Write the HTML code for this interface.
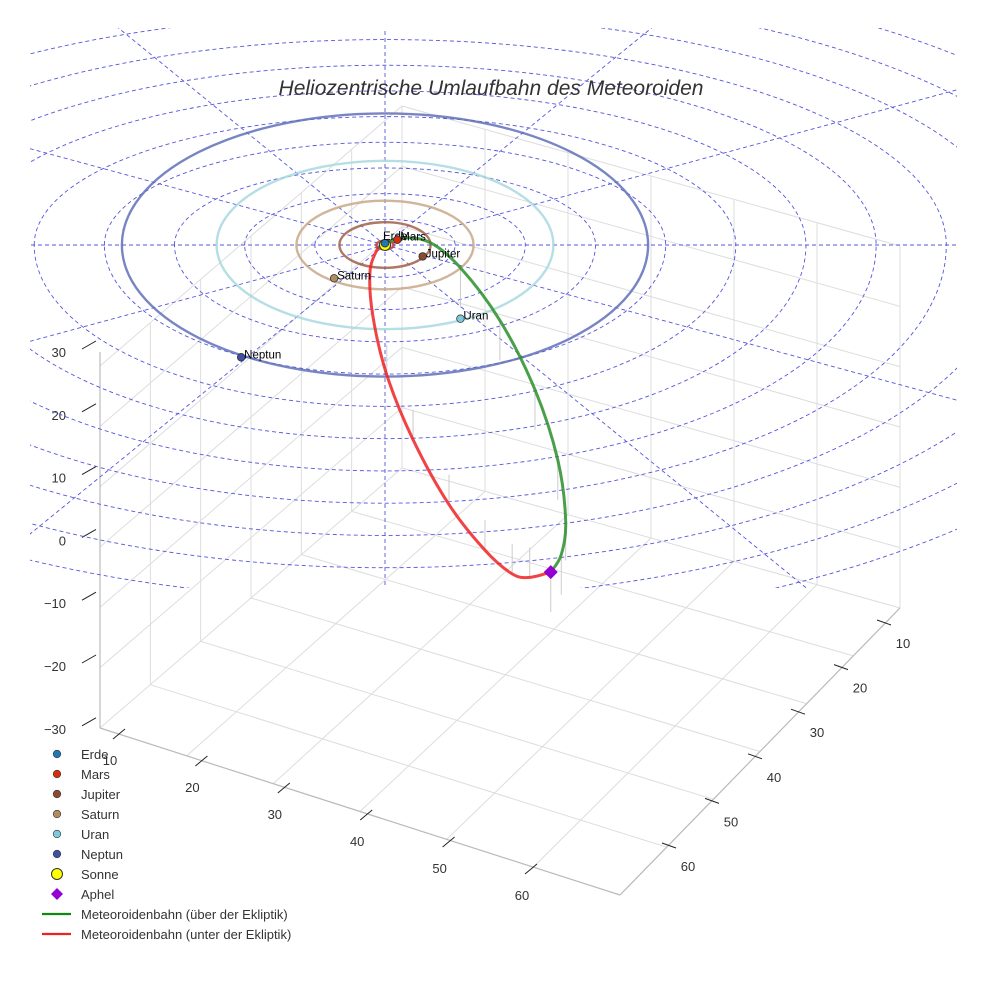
<!DOCTYPE html>
<html><head><meta charset="utf-8"><style>
body{margin:0;background:#fff;}
svg{display:block;font-family:"Liberation Sans",sans-serif;}
</style></head><body>
<svg id="c" width="984" height="984" viewBox="0 0 984 984">
<g id="box"></g>
<g id="grid"></g>
<text x="491" y="95" text-anchor="middle" font-size="21" font-style="italic" fill="#333">Heliozentrische Umlaufbahn des Meteoroiden</text>
<g id="orbits"></g>
<g id="met"></g>
<g id="planets"></g>
<g id="legend"></g>
</svg>
<script>
// ---- data ----
const planetNames=["Erde","Mars","Jupiter","Saturn","Uran","Neptun"];
const planetColors=["#1f77b4","#d62f0a","#8c4a2f","#b08a60","#7ec8dc","#3f4fa8"];
const orbitRadii=[0.6,1.0,5.2,10.1,19.2,30.0];
const orbitColors=["#4070d0","#c04030","#a0604a","#c8a888","#a8d8e0","#6070b8"];
const planetU=[0.0,1.4,4.3,-5.8,8.6,-16.4];
const planetV=[-0.2,-0.6,1.3,3.8,8.4,12.8];
const gridRadii=[8,16,24,32,40,48,56,64,72,80,88,96];
const gridAngles=[0,30,60,90,120,150,180,210,240,270,300,330];
const greenU=[-0.8,1.7,5.1,8.6,13.1,17.1,19.7,20.6,20.1,18.9];
const greenV=[0.3,-0.8,-0.3,2.6,8.6,16.5,24.5,31.4,35.3,37.3];
const redU=[18.9,16.5,14.5,11.4,7.3,3.2,0.2,-1.4,-1.7,-0.8];
const redV=[37.3,37.9,37.5,34.8,29.6,22.2,14.8,8.0,2.9,0.3];
const aphelU=[18.9], aphelV=[37.3];
const zTicks=["30","20","10","0","\u221210","\u221220","\u221230"];
const xTicks=[10,20,30,40,50,60];
const yTicks=[10,20,30,40,50,60];
// ---- projection ----
const CX=385,CY=245,K=8.77;
const px=u=>CX+u*K, py=v=>CY+v*K, ry=r=>r*K*0.5;
const GT=0.366, GB=0.46, GR=0.47;
const NS="http://www.w3.org/2000/svg";
function mk(tag,attrs,parent){const e=document.createElementNS(NS,tag);for(const k in attrs)e.setAttribute(k,attrs[k]);parent.appendChild(e);return e;}
const $=id=>document.getElementById(id);
function smooth(xs,ys){let d=`M${xs[0]},${ys[0]}`;for(let i=0;i<xs.length-1;i++){const x0=xs[Math.max(i-1,0)],y0=ys[Math.max(i-1,0)],x1=xs[i],y1=ys[i],x2=xs[i+1],y2=ys[i+1],x3=xs[Math.min(i+2,xs.length-1)],y3=ys[Math.min(i+2,ys.length-1)];d+=` C${x1+(x2-x0)/6},${y1+(y2-y0)/6} ${x2-(x3-x1)/6},${y2-(y3-y1)/6} ${x2},${y2}`;}return d;}
// ---- box ----
const box=$("box");
const FL=[100,728],FF=[620,895],FR=[900,608],FB=[402,468];
const H=362;
function ln(a,b,st,w,name){const l=mk("line",{x1:a[0],y1:a[1],x2:b[0],y2:b[1],stroke:st,"stroke-width":w},box);}
for(let i=0;i<=6;i++){const t=i/6;
 ln([FL[0]+(FB[0]-FL[0])*t,FL[1]+(FB[1]-FL[1])*t],[FF[0]+(FR[0]-FF[0])*t,FF[1]+(FR[1]-FF[1])*t],"#ddd",1,"floor-grid");
 ln([FL[0]+(FF[0]-FL[0])*t,FL[1]+(FF[1]-FL[1])*t],[FB[0]+(FR[0]-FB[0])*t,FB[1]+(FR[1]-FB[1])*t],"#ddd",1,"floor-grid");
 ln([FL[0]+(FB[0]-FL[0])*t,FL[1]+(FB[1]-FL[1])*t],[FL[0]+(FB[0]-FL[0])*t,FL[1]+(FB[1]-FL[1])*t-H],"#ddd",1,"wall-grid");
 ln([FB[0]+(FR[0]-FB[0])*t,FB[1]+(FR[1]-FB[1])*t],[FB[0]+(FR[0]-FB[0])*t,FB[1]+(FR[1]-FB[1])*t-H],"#ddd",1,"wall-grid");
}
for(let i=1;i<=6;i++){const dz=i*H/6;
 ln([FL[0],FL[1]-dz],[FB[0],FB[1]-dz],"#ddd",1,"wall-grid");
 ln([FB[0],FB[1]-dz],[FR[0],FR[1]-dz],"#ddd",1,"wall-grid");}
ln(FL,FF,"#bbb",1.2,"x-axis-line");ln(FF,FR,"#bbb",1.2,"y-axis-line");ln(FL,[FL[0],352],"#bbb",1.2,"z-axis-line");
zTicks.forEach((z,i)=>{const y=344+i*62.8;
 const t=mk("line",{x1:82,y1:y+5,x2:96,y2:y-3,stroke:"#222"},box);
 const tx=mk("text",{x:66,y:y+13,"text-anchor":"end","font-size":13,fill:"#333"},box);tx.textContent=z;});
xTicks.forEach((v,i)=>{const x=110+82.4*i,y=760+27*i;
 const m=mk("line",{x1:x+3,y1:y-21,x2:x+15,y2:y-31,stroke:"#222"},box);
 const tx=mk("text",{x:x,y:y+5,"text-anchor":"middle","font-size":13,fill:"#333"},box);tx.textContent=v;});
yTicks.forEach((v,i)=>{const x=903-43*i,y=643+44.6*i;
 const m=mk("line",{x1:x-26,y1:y-23,x2:x-12,y2:y-18,stroke:"#222"},box);
 const tx=mk("text",{x:x,y:y+5,"text-anchor":"middle","font-size":13,fill:"#333"},box);tx.textContent=v;});
// ---- polar grid ----
const grid=$("grid");
const clip=mk("clipPath",{id:"cp"},grid);mk("rect",{x:30,y:28,width:927,height:560},clip);
const gg=mk("g",{"clip-path":"url(#cp)"},grid);
gridRadii.forEach(r=>{const a=r*K,t=a*GT,b=a*GB;
 const e=mk("path",{d:`M${CX-a},${CY} A${a},${t} 0 0 1 ${CX+a},${CY} A${a},${b} 0 0 1 ${CX-a},${CY}`,fill:"none",stroke:"#5555dd","stroke-width":0.9,"stroke-dasharray":"4,3"},gg);});
gridAngles.forEach(a=>{const R=gridRadii[gridRadii.length-1]*K,r=a*Math.PI/180,s=Math.sin(r);const l=mk("line",{x1:CX,y1:CY,x2:CX+Math.cos(r)*R,y2:CY+s*R*GR,stroke:"#5555dd","stroke-width":0.9,"stroke-dasharray":"4,3"},gg);});
// ---- orbits ----
orbitRadii.forEach((r,i)=>{const e=mk("ellipse",{cx:CX,cy:CY,rx:r*K,ry:ry(r),fill:"none",stroke:orbitColors[i],"stroke-width":2.4,opacity:0.85},$("orbits"));});
// ---- meteoroid ----
const met=$("met");
greenU.forEach((u,i)=>{if(i<3)return;const l=mk("line",{x1:px(u),y1:py(greenV[i]),x2:px(u),y2:py(greenV[i])+40,stroke:"#ccc","stroke-width":1},met);});
redU.forEach((u,i)=>{if(i<1||i>6)return;const l=mk("line",{x1:px(u),y1:py(redV[i]),x2:px(u),y2:py(redV[i])-30,stroke:"#ccc","stroke-width":1},met);});
const gp=mk("path",{d:smooth(greenU.map(px),greenV.map(py)),fill:"none",stroke:"#2a8f2a","stroke-width":3,opacity:0.85},met);
const rp=mk("path",{d:smooth(redU.map(px),redV.map(py)),fill:"none",stroke:"#ee2222","stroke-width":3,opacity:0.85},met);
const ax=px(aphelU[0]),ay=py(aphelV[0]);
const ap=mk("polygon",{points:`${ax},${ay-7} ${ax+7},${ay} ${ax},${ay+7} ${ax-7},${ay}`,fill:"#9400d3"},met);
// ---- planets ----
const pl=$("planets");
const sun=mk("circle",{cx:CX,cy:CY,r:5.5,fill:"#ffff00",stroke:"#333","stroke-width":1},pl);
planetNames.forEach((n,i)=>{const c=mk("circle",{cx:px(planetU[i]),cy:py(planetV[i]),r:3.8,fill:planetColors[i],stroke:"#333","stroke-width":0.8},pl);
 const t=mk("text",{x:px(planetU[i])+(i==0?-2:3),y:py(planetV[i])+(i==0?-3:1),"font-size":11.5,fill:"#000"},pl);t.textContent=n;});
// ---- legend ----
const lg=$("legend");
const legNames=["Erde","Mars","Jupiter","Saturn","Uran","Neptun","Sonne","Aphel","Meteoroidenbahn (über der Ekliptik)","Meteoroidenbahn (unter der Ekliptik)"];
legNames.forEach((n,i)=>{const y=755+i*20;let m;
 if(i<6)m=mk("circle",{cx:57,cy:y-1,r:3.8,fill:planetColors[i],stroke:"#333","stroke-width":0.6},lg);
 else if(i==6)m=mk("circle",{cx:57,cy:y-1,r:5.5,fill:"#ffff00",stroke:"#333","stroke-width":1},lg);
 else if(i==7)m=mk("polygon",{points:`57,${y-7} 63,${y-1} 57,${y+5} 51,${y-1}`,fill:"#9400d3"},lg);
 else m=mk("line",{x1:42,y1:y-1,x2:71,y2:y-1,stroke:i==8?"#118811":"#ee2222","stroke-width":2.2},lg);
 
 const t=mk("text",{x:81,y:y+4,"font-size":13,fill:"#333"},lg);t.textContent=n;});
</script>
</body></html>
